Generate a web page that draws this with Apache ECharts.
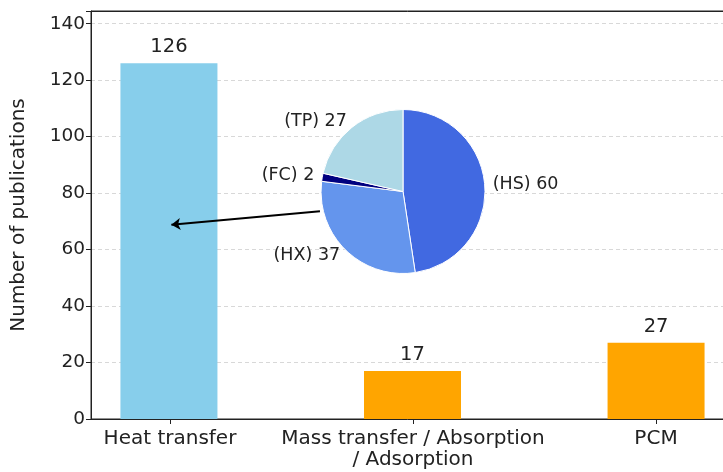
<!DOCTYPE html>
<html><head><meta charset="utf-8">
<script src="https://cdn.jsdelivr.net/npm/echarts@6/dist/echarts.min.js"></script>
<style>html,body{margin:0;padding:0;background:#fff}#c{width:723px;height:472px}</style>
</head><body><div id="c"></div>
<script>
var categories = ['Heat transfer', 'Mass transfer / Absorption\n/ Adsorption', 'PCM'];
var barValues = [126, 17, 27];
var barColors = ['#87CEEB', '#FFA500', '#FFA500'];
var pieNames = ['HS', 'HX', 'FC', 'TP'];
var pieValues = [60, 37, 2, 27];
var pieColors = ['#4169E1', '#6495ED', '#000080', '#ADD8E6'];
var yTicks = [0, 20, 40, 60, 80, 100, 120, 140];
var arrowFrom = [0.62, 73.6];
var arrowTo = [0.01, 68.8];

var FONT = 'DejaVu Sans';
var chart = echarts.init(document.getElementById('c'), null, {renderer: 'canvas'});
chart.setOption({
  animation: false,
  textStyle: {fontFamily: FONT},
  grid: [
    {left: 91, width: 643, top: 11, bottom: 53, show: true, borderColor: '#222', borderWidth: 1,
     backgroundColor: 'transparent', containLabel: false, outerBoundsMode: 'none'},
    {left: 48.5, width: 729, top: 11, bottom: 53, containLabel: false, outerBoundsMode: 'none'}
  ],
  xAxis: [
    {type: 'value', gridIndex: 0, min: -0.32, max: 2.32, z: 10,
     axisLine: {show: true, onZero: false, lineStyle: {color: '#222', width: 1}},
     axisTick: {show: false}, axisLabel: {show: false}, splitLine: {show: false}},
    {type: 'category', gridIndex: 1, data: categories, boundaryGap: true,
     axisLine: {show: true, onZero: false, lineStyle: {color: 'rgba(0,0,0,0)'}},
     axisTick: {show: true, alignWithLabel: true, length: 5, lineStyle: {color: '#222', width: 1}},
     axisLabel: {interval: 0, fontSize: 20, color: '#222', margin: 9, lineHeight: 21, fontFamily: FONT}},
    {type: 'value', gridIndex: 0, position: 'top', min: -0.32, max: 2.32, z: 10,
     axisLine: {show: true, onZero: false, lineStyle: {color: '#222', width: 1}},
     axisTick: {show: false}, axisLabel: {show: false}, splitLine: {show: false}}
  ],
  yAxis: [
    {type: 'value', gridIndex: 0, min: 0, max: 144.5, interval: 20,
     name: 'Number of publications', nameLocation: 'middle', nameGap: 62,
     nameTextStyle: {fontSize: 20, color: '#222', fontFamily: FONT},
     axisLine: {show: true, onZero: false, lineStyle: {color: '#222', width: 1}},
     axisTick: {show: true, length: 5, lineStyle: {color: '#222'}},
     axisLabel: {fontSize: 18.5, color: '#222', margin: 6, fontFamily: FONT,
       formatter: function (v) { return yTicks.indexOf(v) >= 0 ? String(v) : ''; }},
     splitLine: {show: true, lineStyle: {color: '#d8d8d8', type: [4, 3], width: 1}}},
    {type: 'value', gridIndex: 1, show: false, min: 0, max: 144.5,
     axisLine: {show: false, onZero: false}, splitLine: {show: false}}
  ],
  series: [
    {type: 'bar', xAxisIndex: 0, yAxisIndex: 0, barWidth: 97,
     data: barValues.map(function (v, i) { return {value: [i, v], itemStyle: {color: barColors[i]}}; }),
     label: {show: true, position: 'top', distance: 6, fontSize: 19.5, color: '#222', fontFamily: FONT,
       formatter: function (p) { return p.value[1]; }}},
    {type: 'lines', coordinateSystem: 'cartesian2d', xAxisIndex: 0, yAxisIndex: 0, z: 5,
     symbol: ['none', 'arrow'], symbolSize: [0, 9],
     lineStyle: {color: '#000', width: 2, opacity: 1},
     data: [{coords: [arrowFrom, arrowTo]}]},
    {type: 'pie', center: [403, 191.5], radius: 82, startAngle: 90, clockwise: true, z: 4,
     avoidLabelOverlap: false,
     itemStyle: {borderColor: '#fff', borderWidth: 1},
     label: {show: true, position: 'outside', formatter: '({b}) {c}', fontSize: 17.5, color: '#222',
       fontFamily: FONT, distanceToLabelLine: 0},
     labelLine: {show: false, length: 8, length2: 0},
     data: pieNames.map(function (n, i) { return {name: n, value: pieValues[i], itemStyle: {color: pieColors[i]}}; })}
  ]
});
</script></body></html>
